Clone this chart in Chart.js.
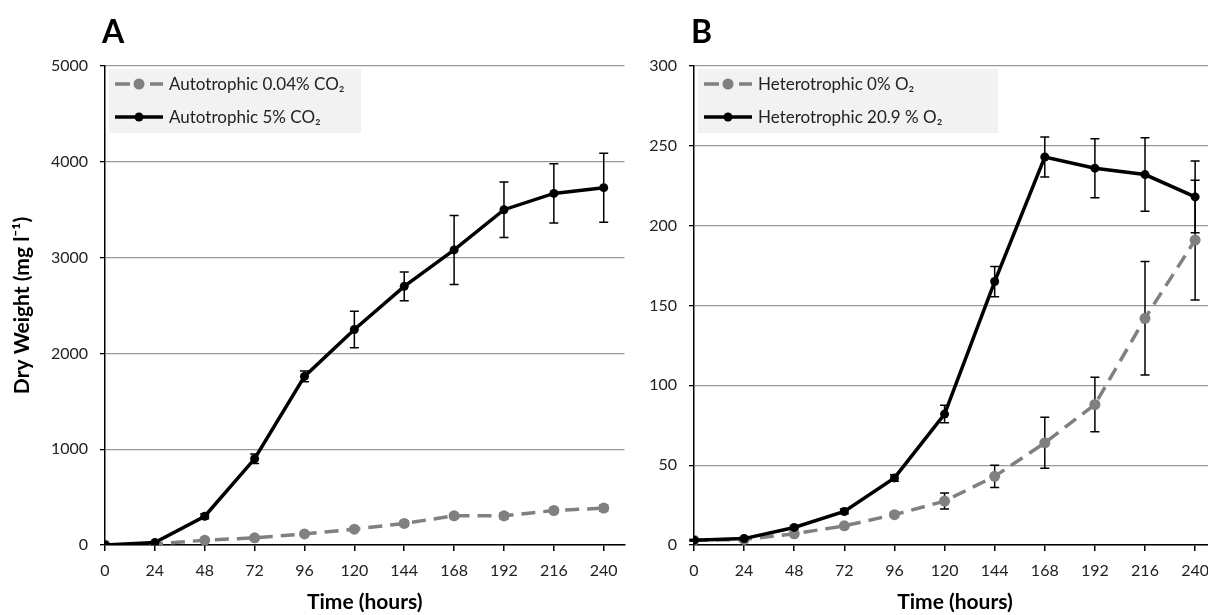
<!DOCTYPE html>
<html>
<head>
<meta charset="utf-8">
<script src="https://cdn.jsdelivr.net/npm/chart.js@4"></script>
<style>
  html, body { margin: 0; padding: 0; background: #fff; overflow: hidden; }
  body { width: 1208px; height: 615px; position: relative; }
  canvas { position: absolute; top: 0; }
  #chartA { left: 0; }
  #chartB { left: 630px; }
</style>
</head>
<body>
<canvas id="chartA" width="630" height="615"></canvas>
<canvas id="chartB" width="600" height="615"></canvas>
<script>
// time points (hours) and x tick labels
const hours = [0, 24, 48, 72, 96, 120, 144, 168, 192, 216, 240];
const xTicks = [0, 24, 48, 72, 96, 120, 144, 168, 192, 216, 240];

// panel A - autotrophic, dry weight mg/l
const autoLowCO2 = [0, 10, 50, 75, 115, 165, 225, 305, 305, 360, 385];
const autoLowCO2Err = [0, 5, 10, 10, 15, 15, 25, 25, 30, 20, 30];
const autoHighCO2 = [0, 25, 300, 900, 1760, 2250, 2700, 3080, 3500, 3670, 3730];
const autoHighCO2Err = [0, 10, 25, 50, 55, 190, 150, 360, 290, 310, 360];

// panel B - heterotrophic, dry weight mg/l
const heteroNoO2 = [3, 3.5, 7, 12, 19, 27.5, 43, 64, 88, 142, 191];
const heteroNoO2Err = [0.5, 0.5, 1, 1, 1.5, 5, 7, 16, 17, 35.5, 37.5];
const heteroAir = [3, 4, 11, 21, 42, 82, 165, 243, 236, 232, 218];
const heteroAirErr = [0.5, 0.5, 1, 1.5, 2, 5.5, 9.5, 12.5, 18.5, 23, 22.5];

const GRAY = '#808080';
const GRID = '#9a9a9a';
const FONT = 'Lato, "Open Sans", "DejaVu Sans", sans-serif';
Chart.defaults.font.family = FONT;
Chart.defaults.color = '#222';

// error bars, drawn under the lines
const errorBars = {
  id: 'errorBars',
  beforeDatasetsDraw(chart) {
    const { ctx, scales: { x, y } } = chart;
    ctx.save();
    ctx.strokeStyle = '#000';
    ctx.lineWidth = 1.5;
    chart.data.datasets.forEach(ds => {
      ds.data.forEach((p, i) => {
        const e = ds.errors[i];
        if (!e) return;
        const px = x.getPixelForValue(p.x);
        const y1 = y.getPixelForValue(p.y + e);
        const y2 = y.getPixelForValue(p.y - e);
        ctx.beginPath();
        ctx.moveTo(px, y1); ctx.lineTo(px, y2);
        ctx.moveTo(px - 4.5, y1); ctx.lineTo(px + 4.5, y1);
        ctx.moveTo(px - 4.5, y2); ctx.lineTo(px + 4.5, y2);
        ctx.stroke();
      });
    });
    ctx.restore();
  }
};

// legend box inside the plot, plus the panel letter
const boxLegend = {
  id: 'boxLegend',
  afterDraw(chart, args, opts) {
    const { ctx, chartArea } = chart;
    const bx = chartArea.left + 4, by = chartArea.top + 3;
    ctx.save();
    ctx.fillStyle = '#f2f2f2';
    ctx.fillRect(bx, by, opts.width, 64);
    chart.data.datasets.forEach((ds, i) => {
      const cy = by + 15 + i * 33;
      const x0 = bx + 6, x1 = bx + 6 + opts.sample;
      ctx.strokeStyle = ds.borderColor;
      ctx.lineWidth = ds.borderWidth;
      ctx.beginPath();
      if (ds.borderDash.length) {
        // dashed sample: one dash each side of the marker
        ctx.moveTo(x0, cy); ctx.lineTo(x0 + 15, cy);
        ctx.moveTo(x1 - 13, cy); ctx.lineTo(x1, cy);
      } else {
        ctx.moveTo(x0, cy); ctx.lineTo(x1, cy);
      }
      ctx.stroke();
      ctx.fillStyle = ds.pointBackgroundColor;
      ctx.beginPath(); ctx.arc((x0 + x1) / 2, cy, ds.pointRadius, 0, Math.PI * 2); ctx.fill();
      ctx.fillStyle = '#222';
      ctx.font = '17px ' + FONT;
      ctx.textBaseline = 'middle';
      ctx.fillText(ds.label, x1 + 6, cy + 1);
    });
    ctx.fillStyle = '#000';
    ctx.font = 'bold 32px ' + FONT;
    ctx.textBaseline = 'alphabetic';
    ctx.fillText(opts.letter, chartArea.left - 3, 43);
    ctx.restore();
  }
};

function series(label, xs, ys, errs, gray) {
  return {
    label,
    data: xs.map((h, i) => ({ x: h, y: ys[i] })),
    errors: errs,
    borderColor: gray ? GRAY : '#000',
    backgroundColor: gray ? GRAY : '#000',
    pointBackgroundColor: gray ? GRAY : '#000',
    pointBorderWidth: 0,
    pointRadius: gray ? 5.5 : 4.5,
    borderWidth: 3.5,
    borderDash: gray ? [14, 8] : [],
    order: gray ? 2 : 1,
    tension: 0
  };
}

function makeChart(id, cfg) {
  return new Chart(document.getElementById(id), {
    type: 'line',
    data: { datasets: cfg.datasets },
    plugins: [errorBars, boxLegend],
    options: {
      responsive: false,
      animation: false,
      devicePixelRatio: 1,
      layout: { padding: { top: 66, right: cfg.padRight, left: 0, bottom: 0 } },
      plugins: {
        legend: { display: false },
        tooltip: { enabled: false },
        boxLegend: { width: cfg.legendWidth, sample: cfg.sample, letter: cfg.letter }
      },
      scales: {
        x: {
          type: 'linear', min: 0, max: 250,
          afterBuildTicks: s => { s.ticks = xTicks.map(v => ({ value: v })); },
          afterFit: s => { s.height = 70; },
          ticks: { font: { size: 16 }, padding: 10, maxRotation: 0, autoSkip: false, callback: v => String(v) },
          grid: { drawOnChartArea: false, drawTicks: true, tickLength: 6, tickColor: '#000', lineWidth: 1.5 },
          border: { display: true, color: '#000', width: 1.5 },
          title: { display: true, text: 'Time (hours)', font: { size: 21, weight: 'bold' }, color: '#000', padding: { top: 0, bottom: 0 } }
        },
        y: {
          min: 0, max: cfg.yMax,
          afterFit: s => { s.width = cfg.yWidth; },
          ticks: { stepSize: cfg.yStep, font: { size: 16 }, padding: 12, callback: v => String(v) },
          grid: { color: GRID, lineWidth: 1.3, tickLength: 5, tickColor: '#000' },
          border: { display: true, color: '#000', width: 1.5 },
          title: { display: !!cfg.yTitle, text: cfg.yTitle || '', font: { size: 21, weight: 'bold' }, color: '#000', padding: { top: 10, bottom: 0 } }
        }
      }
    }
  });
}

makeChart('chartA', {
  datasets: [
    series('Autotrophic 0.04% CO\u2082', hours, autoLowCO2, autoLowCO2Err, true),
    series('Autotrophic 5% CO\u2082', hours, autoHighCO2, autoHighCO2Err, false)
  ],
  yMax: 5000, yStep: 1000, yWidth: 105, padRight: 3,
  legendWidth: 252, sample: 48, letter: 'A',
  yTitle: 'Dry Weight (mg l\u207B\u00B9)'
});

makeChart('chartB', {
  datasets: [
    series('Heterotrophic 0% O\u2082', hours, heteroNoO2, heteroNoO2Err, true),
    series('Heterotrophic 20.9 % O\u2082', hours, heteroAir, heteroAirErr, false)
  ],
  yMax: 300, yStep: 50, yWidth: 64, padRight: 14,
  legendWidth: 300, sample: 48, letter: 'B',
  yTitle: ''
});
</script>
</body>
</html>
